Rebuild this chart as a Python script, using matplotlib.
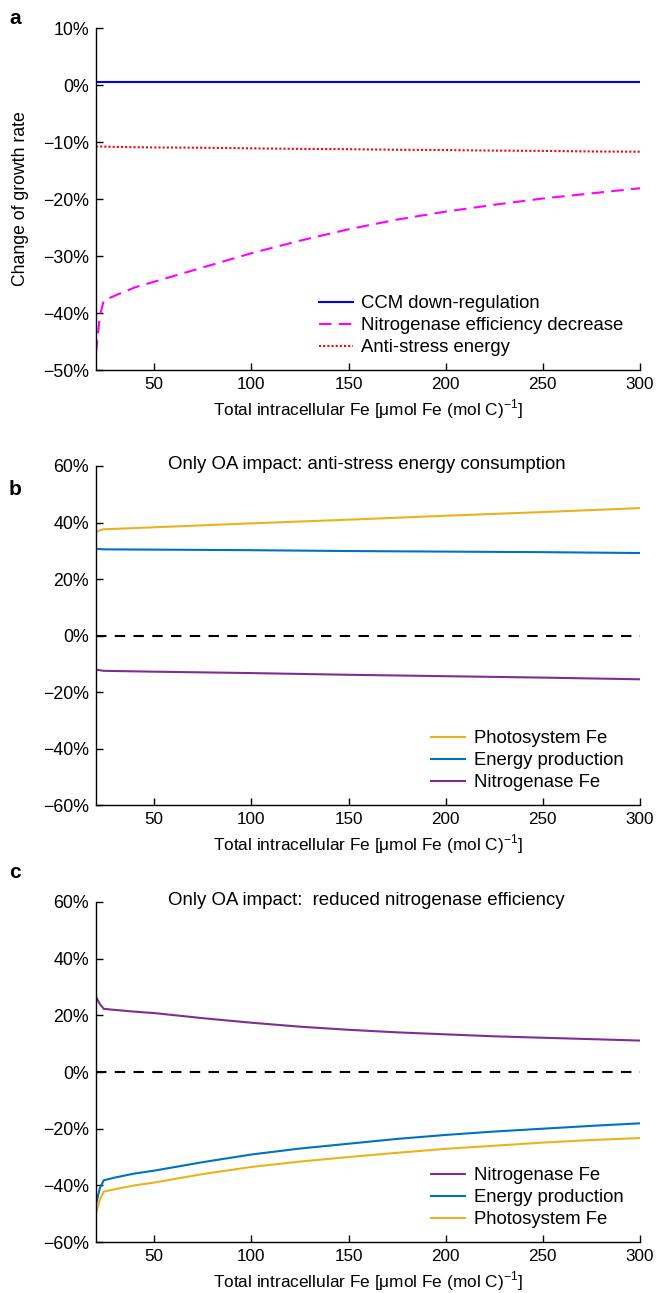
import matplotlib
matplotlib.use('Agg')
import matplotlib.pyplot as plt
from matplotlib.ticker import FuncFormatter

plt.rcParams['font.family'] = ['Liberation Sans', 'DejaVu Sans']
plt.rcParams['mathtext.fontset'] = 'custom'
plt.rcParams['mathtext.rm'] = 'Liberation Sans'
plt.rcParams['font.size'] = 12

# --- panel a data (change of growth rate, %)
xa = [20, 22, 24, 30, 40, 50, 75, 100, 125, 150, 175, 200, 225, 250, 275, 300]
ccm = [0.5] * len(xa)
nit_eff = [-47.0, -40.5, -37.8, -36.9, -35.5, -34.5, -32.0, -29.5, -27.3,
           -25.3, -23.6, -22.2, -21.0, -19.9, -19.0, -18.1]
anti_stress = [-10.8, -10.8, -10.8, -10.85, -10.9, -10.95, -11.0, -11.1, -11.2,
               -11.25, -11.35, -11.4, -11.5, -11.55, -11.65, -11.7]

# --- panel b data (only OA impact: anti-stress energy consumption)
xb = [20, 22, 24, 50, 100, 150, 200, 250, 300]
b_photo = [36.5, 37.3, 37.6, 38.3, 39.7, 41.0, 42.4, 43.7, 45.1]
b_energy = [30.6, 30.6, 30.5, 30.4, 30.2, 29.9, 29.7, 29.5, 29.2]
b_nitro = [-12.1, -12.3, -12.5, -12.8, -13.3, -13.9, -14.4, -14.9, -15.5]

# --- panel c data (only OA impact: reduced nitrogenase efficiency)
xc = [20, 22, 24, 30, 40, 50, 75, 100, 125, 150, 175, 200, 225, 250, 275, 300]
c_nitro = [26.5, 24.0, 22.3, 21.9, 21.3, 20.8, 19.0, 17.4, 16.0, 14.9, 14.0,
           13.3, 12.6, 12.1, 11.6, 11.1]
c_energy = [-46.7, -41.0, -38.2, -37.2, -35.8, -34.8, -31.8, -29.1, -27.0,
            -25.3, -23.6, -22.2, -21.0, -20.0, -19.0, -18.1]
c_photo = [-50.0, -45.0, -42.2, -41.3, -40.0, -39.0, -36.0, -33.5, -31.6,
           -30.0, -28.5, -27.1, -26.0, -24.9, -24.0, -23.3]

xticks = [50, 100, 150, 200, 250, 300]
xlabel = r'Total intracellular Fe [μmol Fe (mol C)$^{-1}$]'

YELLOW = '#EDB120'
BLUE = '#0072BD'
PURPLE = '#7E2F8E'
LEG_FS = 13.3


def pct(v, pos):
    v = int(round(v))
    return f'{v}%' if v >= 0 else f'\u2212{-v}%'


def style(ax, ylim, yticks):
    ax.set_xlim(20, 300)
    ax.set_ylim(*ylim)
    ax.set_xticks(xticks)
    ax.set_yticks(yticks)
    ax.yaxis.set_major_formatter(FuncFormatter(pct))
    ax.spines['top'].set_visible(False)
    ax.spines['right'].set_visible(False)
    for s in ('left', 'bottom'):
        ax.spines[s].set_linewidth(1.0)
    ax.tick_params(direction='in', length=5, width=1.0, labelsize=12.3, pad=5)
    ax.tick_params(axis='y', labelsize=12.8)
    ax.set_xlabel(xlabel, fontsize=12.4, labelpad=4)


def legend(ax):
    ax.legend(loc='lower right', bbox_to_anchor=(1.0, -0.008), frameon=False,
              handlelength=1.85, handletextpad=0.45, labelspacing=0.27,
              fontsize=LEG_FS)


fig = plt.figure(figsize=(6.61, 12.93), dpi=100)
L, W = 0.1452, 0.823
ax_a = fig.add_axes([L, 0.7138, W, 0.2645])
ax_b = fig.add_axes([L, 0.3774, W, 0.2622])
ax_c = fig.add_axes([L, 0.0394, W, 0.2630])

# panel a
ax_a.plot(xa, ccm, color='#0000FF', lw=1.5, label='CCM down-regulation')
ax_a.plot(xa, nit_eff, color='#FF00FF', lw=1.5, dashes=(6, 3.5),
          label='Nitrogenase efficiency decrease')
ax_a.plot(xa, anti_stress, color='#FF0000', lw=1.5, dashes=(1, 1),
          label='Anti-stress energy')
style(ax_a, (-50, 10), [-50, -40, -30, -20, -10, 0, 10])
ax_a.set_ylabel('Change of growth rate', fontsize=12.7, labelpad=10)
legend(ax_a)

# panel b
ax_b.plot(xb, b_photo, color=YELLOW, lw=1.5, label='Photosystem Fe')
ax_b.plot(xb, b_energy, color=BLUE, lw=1.5, label='Energy production')
ax_b.plot(xb, b_nitro, color=PURPLE, lw=1.5, label='Nitrogenase Fe')
ax_b.axhline(0, color='black', lw=1.5, dashes=(5, 4))
style(ax_b, (-60, 60), [-60, -40, -20, 0, 20, 40, 60])
ax_b.text(0.132, 1.005, 'Only OA impact: anti-stress energy consumption',
          transform=ax_b.transAxes, ha='left', va='center', fontsize=13.4)
legend(ax_b)

# panel c
ax_c.plot(xc, c_nitro, color=PURPLE, lw=1.5, label='Nitrogenase Fe')
ax_c.plot(xc, c_energy, color=BLUE, lw=1.5, label='Energy production')
ax_c.plot(xc, c_photo, color=YELLOW, lw=1.5, label='Photosystem Fe')
ax_c.axhline(0, color='black', lw=1.5, dashes=(5, 4))
style(ax_c, (-60, 60), [-60, -40, -20, 0, 20, 40, 60])
ax_c.text(0.132, 1.005, 'Only OA impact:  reduced nitrogenase efficiency',
          transform=ax_c.transAxes, ha='left', va='center', fontsize=13.4)
legend(ax_c)

# panel letters
for lbl, ypx in (('a', 18), ('b', 490), ('c', 872)):
    fig.text(15 / 661, 1 - ypx / 1293, lbl, fontsize=15, fontweight='bold',
             ha='center', va='center')

fig.savefig('out.png', dpi=100)
